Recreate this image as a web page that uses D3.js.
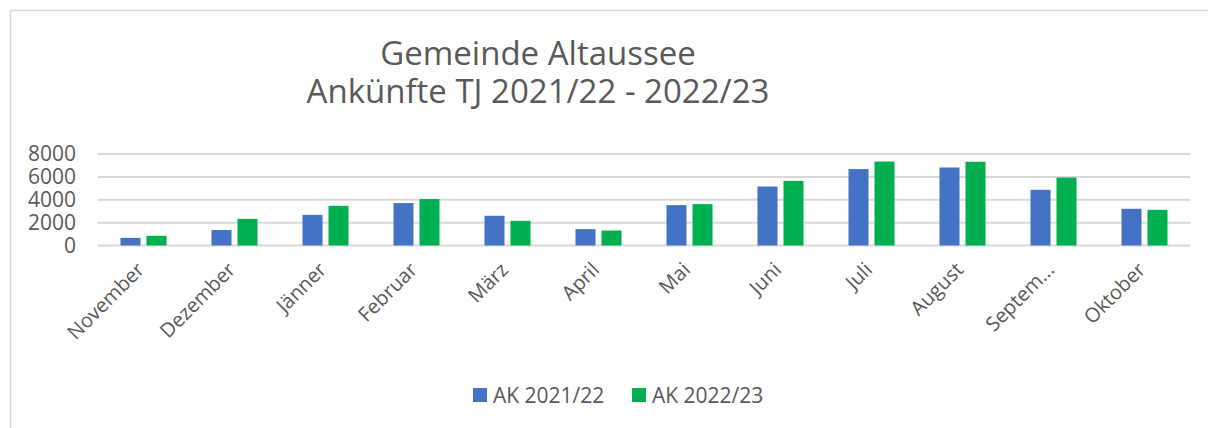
<!DOCTYPE html>
<html>
<head>
<meta charset="utf-8">
<script src="https://cdn.jsdelivr.net/npm/d3@7"></script>
<style>
  body { margin: 0; background: #fff; }
  svg text { font-family: "Open Sans", sans-serif; fill: #595959; }
</style>
</head>
<body>
<div class="chart"></div>
<script>
const months = ['November', 'Dezember', 'Jänner', 'Februar', 'März', 'April',
  'Mai', 'Juni', 'Juli', 'August', 'Septem...', 'Oktober'];
const seriesNames = ['AK 2021/22', 'AK 2022/23'];
const ak2122 = [670, 1350, 2680, 3710, 2600, 1430, 3530, 5160, 6680, 6820, 4870, 3210];
const ak2223 = [850, 2330, 3470, 4060, 2160, 1310, 3620, 5650, 7340, 7320, 5940, 3120];
const yTicks = [0, 2000, 4000, 6000, 8000];
const titleLines = ['Gemeinde Altaussee', 'Ankünfte TJ 2021/22 - 2022/23'];
const colors = ['#4472C4', '#00B050'];

const width = 1208, height = 428;
const svg = d3.select('.chart').append('svg')
  .attr('width', width).attr('height', height);

// chart frame (only top and left edges are visible in the crop)
svg.append('rect')
  .attr('x', 10.5).attr('y', 10.5)
  .attr('width', 1300).attr('height', 500)
  .attr('fill', 'none').attr('stroke', '#d9d9d9').attr('stroke-width', 1.5);

// title
svg.append('g').selectAll('text')
  .data(titleLines)
  .enter().append('text')
  .attr('x', 538)
  .attr('y', (d, i) => 65 + i * 38)
  .attr('text-anchor', 'middle')
  .style('font-size', '33px')
  .text(d => d);

// scales
const x0 = d3.scaleBand().domain(months).range([98, 1190]);
const x1 = d3.scaleBand().domain(seriesNames).range([0, x0.bandwidth()])
  .paddingInner(0.23).paddingOuter(0.865);
const y = d3.scaleLinear().domain([0, 8000]).range([245.5, 154]);

// grid lines
svg.append('g').selectAll('line')
  .data(yTicks)
  .enter().append('line')
  .attr('x1', 98).attr('x2', 1190)
  .attr('y1', d => y(d)).attr('y2', d => y(d))
  .attr('stroke', '#d9d9d9').attr('stroke-width', 2);

// y axis labels
const yAxis = d3.axisLeft(y).tickValues(yTicks).tickFormat(d3.format('d'))
  .tickSize(0).tickPadding(0);
const yg = svg.append('g').attr('transform', 'translate(76,0)').call(yAxis);
yg.select('.domain').remove();
yg.selectAll('text')
  .style('font-size', '21px')
  .style('font-family', '"Open Sans", sans-serif')
  .attr('fill', '#595959');

// bars
const rows = months.map((m, i) => ({ month: m, values: [ak2122[i], ak2223[i]] }));
const groups = svg.append('g').selectAll('g')
  .data(rows)
  .enter().append('g')
  .attr('transform', d => 'translate(' + x0(d.month) + ',0)');

groups.selectAll('rect')
  .data(d => d.values.map((v, k) => ({ name: seriesNames[k], value: v, k: k })))
  .enter().append('rect')
  .attr('x', d => x1(d.name))
  .attr('width', x1.bandwidth())
  .attr('y', d => y(d.value))
  .attr('height', d => y(0) - y(d.value))
  .attr('fill', d => colors[d.k]);

// x axis labels, rotated
svg.append('g').selectAll('text')
  .data(months)
  .enter().append('text')
  .attr('transform', d => 'translate(' + (x0(d) + x0.bandwidth() / 2 + 2) + ',271) rotate(-45)')
  .attr('text-anchor', 'end')
  .style('font-size', '20px')
  .text(d => d);

// legend
const legend = svg.append('g').selectAll('g')
  .data(seriesNames)
  .enter().append('g')
  .attr('transform', (d, i) => 'translate(' + (473 + i * 159) + ',388)');

legend.append('rect')
  .attr('width', 14).attr('height', 14)
  .attr('fill', (d, i) => colors[i]);

legend.append('text')
  .attr('x', 20).attr('y', 14.5)
  .style('font-size', '21px')
  .text(d => d);
</script>
</body>
</html>
